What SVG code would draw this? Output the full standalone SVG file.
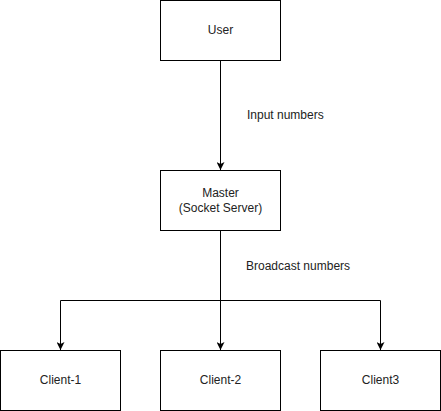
<svg xmlns="http://www.w3.org/2000/svg" width="441" height="411" viewBox="0 0 441 411">
<style>
.box{fill:#fff;stroke:#000;stroke-width:1}
.t{font-family:"Liberation Sans",Arial,sans-serif;font-size:12px;fill:#222;text-anchor:middle}
.lbl{font-family:"Liberation Sans",Arial,sans-serif;font-size:12px;fill:#222}
.e{fill:none;stroke:#000;stroke-width:1}
</style>
<defs>
<marker id="arr" viewBox="0 0 10 10" refX="10" refY="5" markerWidth="8" markerHeight="8" markerUnits="userSpaceOnUse" orient="auto">
<path d="M0,0 L10,5 L0,10 L2.5,5 Z" fill="#000"/>
</marker>
</defs>
<rect width="441" height="411" fill="#fff"/>
<g id="connectors">
<path class="e" d="M220.5,60.5 V170" marker-end="url(#arr)"/>
<path class="e" d="M220.5,230.5 V350" marker-end="url(#arr)"/>
<path class="e" d="M220.5,300.5 H60.5 V350" marker-end="url(#arr)"/>
<path class="e" d="M220.5,300.5 H380.5 V350" marker-end="url(#arr)"/>
<text class="lbl" x="247" y="119">Input numbers</text>
<text class="lbl" x="246" y="270">Broadcast numbers</text>
</g>
<g id="user"><rect class="box" x="160.5" y="0.5" width="120" height="60"/><text class="t" x="220.5" y="34">User</text></g>
<g id="master"><rect class="box" x="160.5" y="170.5" width="120" height="60"/><text class="t" x="220.5" y="197">Master</text><text class="t" x="220.5" y="212">(Socket Server)</text></g>
<g id="client1"><rect class="box" x="0.5" y="350.5" width="120" height="60"/><text class="t" x="60.5" y="384">Client-1</text></g>
<g id="client2"><rect class="box" x="160.5" y="350.5" width="120" height="60"/><text class="t" x="220.5" y="384">Client-2</text></g>
<g id="client3"><rect class="box" x="320.5" y="350.5" width="120" height="60"/><text class="t" x="380.5" y="384">Client3</text></g>
</svg>
